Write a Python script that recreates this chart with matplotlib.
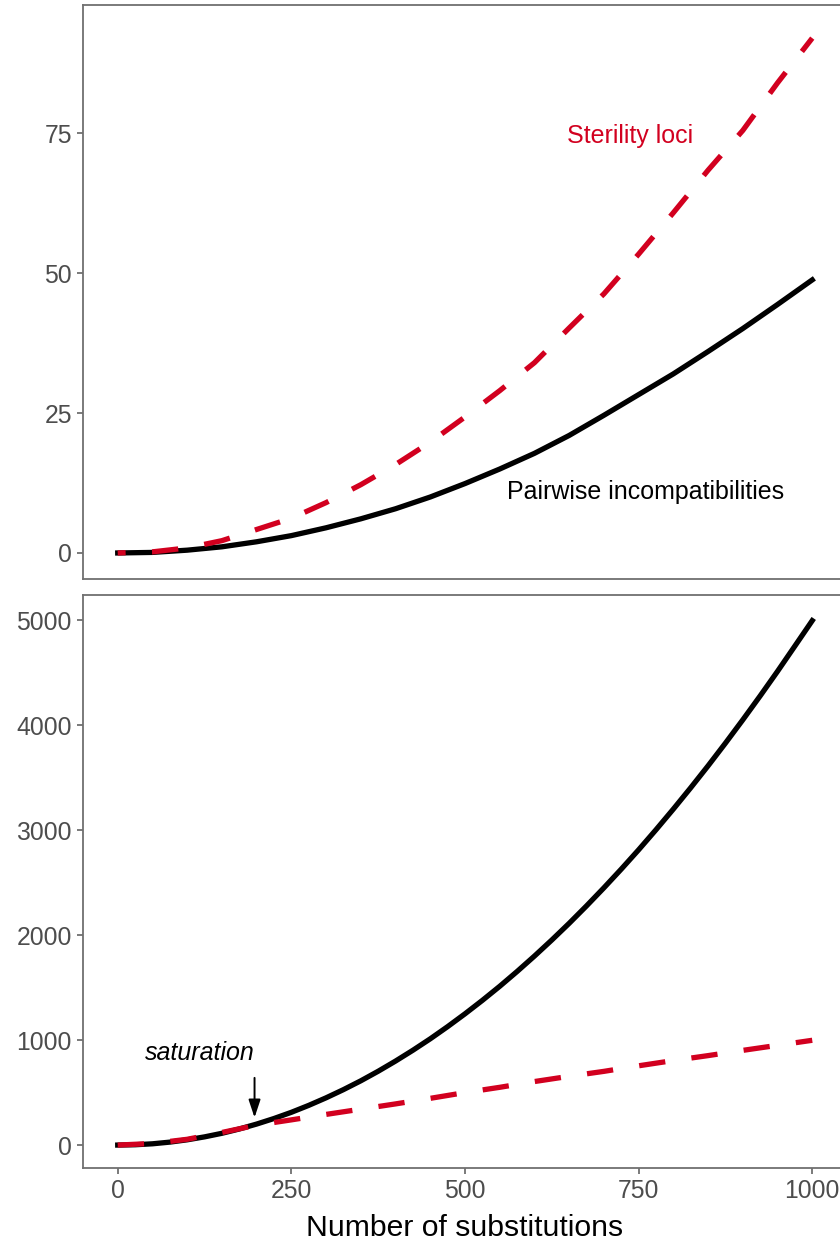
import matplotlib
matplotlib.use("Agg")
import matplotlib.pyplot as plt

plt.rcParams.update({
    "font.family": ["Liberation Sans", "DejaVu Sans"],
    "font.size": 18,
})

ROJO = "#D2001F"
GRIS = "#707070"

# ---- datos ----
sustituciones = [0, 50, 100, 150, 200, 250, 300, 350, 400, 450, 500,
                 550, 600, 650, 700, 750, 800, 850, 900, 950, 1000]

# panel superior
loci_esteriles = [0, 0.2, 0.9, 2.2, 4.2, 6.2, 9.0, 12.2, 15.8, 19.8, 24.3,
                  29.0, 34.0, 40.2, 46.3, 53.4, 60.8, 68.4, 75.5, 84.0, 92.0]
incompat_pares = [0, 0.1, 0.5, 1.1, 2.0, 3.1, 4.5, 6.1, 7.9, 10.0, 12.4,
                  15.0, 17.8, 21.0, 24.6, 28.3, 32.0, 36.0, 40.1, 44.4, 48.8]

# panel inferior (curva negra leida cada 25)
sustituciones_fino = [0, 25, 50, 75, 100, 125, 150, 175, 200, 225, 250,
                      275, 300, 325, 350, 375, 400, 425, 450, 475, 500,
                      525, 550, 575, 600, 625, 650, 675, 700, 725, 750,
                      775, 800, 825, 850, 875, 900, 925, 950, 975, 1000]
incompat_inf = [0, 3, 12, 28, 50, 78, 112, 153, 200, 253, 312,
                378, 450, 528, 612, 703, 800, 903, 1012, 1128, 1250,
                1378, 1512, 1653, 1800, 1953, 2112, 2278, 2450, 2628, 2812,
                3003, 3200, 3403, 3612, 3828, 4050, 4278, 4512, 4753, 4995]
loci_inf = [0, 15, 55, 120, 190, 240, 292, 342, 392, 445, 500,
            550, 605, 655, 702, 755, 805, 852, 902, 950, 998]

fig = plt.figure(figsize=(8.4, 12.45), dpi=100)
ax1 = fig.add_axes([0.0988, 0.5349, 0.9095, 0.4610])
ax2 = fig.add_axes([0.0988, 0.0618, 0.9095, 0.4602])

estilo_rojo = dict(color=ROJO, lw=3.8, dash_capstyle="butt",
                   solid_capstyle="butt")

# ---- panel superior ----
ax1.plot(sustituciones, incompat_pares, color="black", lw=3.8, zorder=2)
ax1.plot(sustituciones, loci_esteriles, zorder=3,
         linestyle=(3.5, (5, 5.0)), **estilo_rojo)
ax1.text(737, 74.5, "Sterility loci", color=ROJO, ha="center",
         va="center", fontsize=18)
ax1.text(760, 10.9, "Pairwise incompatibilities", color="black",
         ha="center", va="center", fontsize=18)
ax1.set_xlim(-50, 1050)
ax1.set_ylim(-4.66, 97.9)
ax1.set_yticks([0, 25, 50, 75])
ax1.set_xticks([0, 250, 500, 750, 1000])

# ---- panel inferior ----
ax2.plot(sustituciones_fino, incompat_inf, color="black", lw=3.8, zorder=2)
ax2.plot(sustituciones, loci_inf, zorder=3,
         linestyle=(0, (5, 5.0)), **estilo_rojo)
ax2.text(118, 876, "saturation", style="italic", ha="center",
         va="center", fontsize=18)
ax2.annotate("", xy=(197, 262), xytext=(197, 640),
             arrowprops=dict(arrowstyle="-|>,head_length=0.6,head_width=0.2",
                             color="black", lw=1.4, shrinkA=0, shrinkB=0))
ax2.set_xlim(-50, 1050)
ax2.set_ylim(-219, 5238)
ax2.set_yticks([0, 1000, 2000, 3000, 4000, 5000])
ax2.set_xticks([0, 250, 500, 750, 1000])
ax2.set_xlabel("Number of substitutions", fontsize=21.7, labelpad=8)

for ax in (ax1, ax2):
    for s in ax.spines.values():
        s.set_color(GRIS)
        s.set_linewidth(1.3)
    ax.tick_params(color=GRIS, labelcolor="#4D4D4D", length=4,
                   width=1.3, pad=4, labelsize=17.8)
    ax.grid(False)

# sin marcas en el eje x del panel de arriba
ax1.tick_params(axis="x", bottom=False, labelbottom=False)

fig.savefig("out.png", dpi=100)
